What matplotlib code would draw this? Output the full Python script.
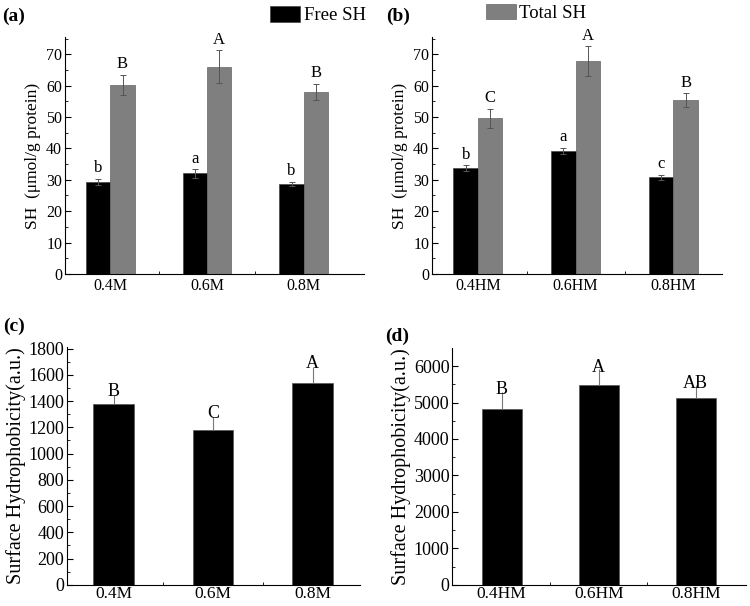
import matplotlib.pyplot as plt
import numpy as np

plt.rcParams['font.family'] = ['Liberation Serif', 'DejaVu Serif']

# (a) / (b) SH content
groups_a = ['0.4M', '0.6M', '0.8M']
free_a = [29.3, 32.0, 28.7]
free_a_err = [1.0, 1.3, 0.7]
total_a = [60.2, 66.0, 58.0]
total_a_err = [3.2, 5.2, 2.6]
free_a_lab = ['b', 'a', 'b']
total_a_lab = ['B', 'A', 'B']

groups_b = ['0.4HM', '0.6HM', '0.8HM']
free_b = [33.7, 39.2, 30.8]
free_b_err = [1.0, 1.0, 0.8]
total_b = [49.6, 67.8, 55.3]
total_b_err = [3.0, 4.7, 2.2]
free_b_lab = ['b', 'a', 'c']
total_b_lab = ['C', 'A', 'B']

# (c) / (d) surface hydrophobicity
hyd_c = [1376, 1177, 1534]
hyd_c_err = [70, 105, 125]
hyd_c_lab = ['B', 'C', 'A']

hyd_d = [4830, 5490, 5120]
hyd_d_err = [470, 430, 360]
hyd_d_lab = ['B', 'A', 'AB']

GRAY = '#7f7f7f'

fig = plt.figure(figsize=(7.5, 6.06), dpi=100)


def style_axes(ax, ymax, major, minor, fs=11, xfs=None, xpad=3):
    ax.spines['top'].set_visible(False)
    ax.spines['right'].set_visible(False)
    ax.set_ylim(0, ymax)
    ax.set_yticks(np.arange(0, ymax + 1e-9, major))
    ax.set_yticks(np.arange(0, ymax + 1e-9, minor), minor=True)
    ax.tick_params(axis='y', direction='in', length=4, labelsize=fs, pad=2)
    ax.tick_params(axis='y', which='minor', direction='in', length=2)
    ax.tick_params(axis='x', length=0, labelsize=xfs or fs, pad=xpad)
    ax.set_xticks([0.5, 1.5], minor=True)
    ax.tick_params(axis='x', which='minor', direction='in', length=2)
    for s in ax.spines.values():
        s.set_linewidth(0.8)


def pair_panel(ax, groups, free, free_err, total, total_err, flab, tlab, xmax):
    x = np.arange(len(groups))
    w = 0.25
    ax.bar(x - w / 2, free, w, color='black', edgecolor='#444444', linewidth=0.5,
           yerr=free_err, error_kw=dict(ecolor='#555555', elinewidth=0.7, capsize=2, capthick=0.7),
           label='Free SH')
    ax.bar(x + w / 2, total, w, color=GRAY, edgecolor='#666666', linewidth=0.5,
           yerr=total_err, error_kw=dict(ecolor='#555555', elinewidth=0.7, capsize=2, capthick=0.7),
           label='Total SH')
    for i in range(len(groups)):
        ax.text(x[i] - w / 2, free[i] + free_err[i] + 0.8, flab[i], ha='center', va='bottom', fontsize=12)
        ax.text(x[i] + w / 2, total[i] + total_err[i] + 0.8, tlab[i], ha='center', va='bottom', fontsize=12)
    ax.set_xticks(x)
    ax.set_xticklabels(groups)
    ax.set_xlim(-0.47, xmax)
    style_axes(ax, 75, 10, 5, fs=11.5)
    ax.set_ylim(0, 75.5)
    ax.set_ylabel('SH  (μmol/g protein)', fontsize=12.5, labelpad=4)


def single_panel(ax, groups, vals, err, lab, ymax, major, minor, ylim, xlim, off):
    x = np.arange(len(groups))
    ax.bar(x, vals, 0.41, color='black', edgecolor='#555555', linewidth=0.5,
           yerr=[np.zeros(len(err)), err], error_kw=dict(ecolor='#777777', elinewidth=0.8, capsize=0))
    for i in range(len(groups)):
        ax.text(x[i], vals[i] + err[i] - off, lab[i], ha='center', va='bottom', fontsize=13)
    ax.set_xticks(x)
    ax.set_xticklabels(groups)
    ax.set_xlim(*xlim)
    style_axes(ax, ymax, major, minor, fs=13, xfs=12.5, xpad=1)
    ax.set_ylim(0, ylim)
    ax.set_ylabel('Surface Hydrophobicity(a.u.)', fontsize=14.5, labelpad=2)


ax_a = fig.add_axes([0.0867, 0.548, 0.398, 0.391])
pair_panel(ax_a, groups_a, free_a, free_a_err, total_a, total_a_err, free_a_lab, total_a_lab, 2.62)

ax_b = fig.add_axes([0.576, 0.548, 0.387, 0.391])
pair_panel(ax_b, groups_b, free_b, free_b_err, total_b, total_b_err, free_b_lab, total_b_lab, 2.5)

ax_c = fig.add_axes([0.0893, 0.035, 0.391, 0.392])
single_panel(ax_c, groups_a, hyd_c, hyd_c_err, hyd_c_lab, 1800, 200, 100, 1810, (-0.47, 2.48), 40)

ax_d = fig.add_axes([0.603, 0.035, 0.392, 0.391])
single_panel(ax_d, groups_b, hyd_d, hyd_d_err, hyd_d_lab, 6000, 1000, 500, 6500, (-0.51, 2.52), 180)

# legends split across the top
h_free, l_free = ax_a.get_legend_handles_labels()
fig.legend([h_free[0]], [l_free[0]], loc='upper left', bbox_to_anchor=(0.338, 1.018),
           frameon=False, fontsize=13.5, handlelength=1.6, handleheight=0.9, handletextpad=0.2)
fig.legend([h_free[1]], [l_free[1]], loc='upper left', bbox_to_anchor=(0.625, 1.022),
           frameon=False, fontsize=13.5, handlelength=1.6, handleheight=0.9, handletextpad=0.2)

fig.text(0.003, 0.988, '(a)', fontsize=14, fontweight='bold', va='top')
fig.text(0.515, 0.988, '(b)', fontsize=14, fontweight='bold', va='top')
fig.text(0.004, 0.475, '(c)', fontsize=14, fontweight='bold', va='top')
fig.text(0.513, 0.46, '(d)', fontsize=14, fontweight='bold', va='top')

fig.savefig('out.png', dpi=100)
